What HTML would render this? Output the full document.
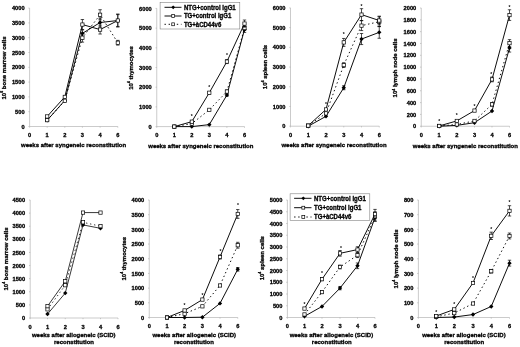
<!DOCTYPE html>
<html><head><meta charset="utf-8"><title>Figure</title>
<style>html,body{margin:0;padding:0;background:#fff;}svg{display:block;font-family:"Liberation Sans", Arial, sans-serif;}</style>
</head><body>
<svg width="520" height="347" viewBox="0 0 520 347">
<rect width="520" height="347" fill="#fff"/>
<g stroke="#a8a8a8" stroke-width="0.6" fill="none">
<path d="M29.6 8.1V126.5H117.8"/>
<path d="M28.40 126.50H29.6"/>
<path d="M28.40 111.70H29.6"/>
<path d="M28.40 96.90H29.6"/>
<path d="M28.40 82.10H29.6"/>
<path d="M28.40 67.30H29.6"/>
<path d="M28.40 52.50H29.6"/>
<path d="M28.40 37.70H29.6"/>
<path d="M28.40 22.90H29.6"/>
<path d="M28.40 8.10H29.6"/>
<path d="M29.60 126.5v1.2"/>
<path d="M47.20 126.5v1.2"/>
<path d="M64.80 126.5v1.2"/>
<path d="M82.40 126.5v1.2"/>
<path d="M100.10 126.5v1.2"/>
<path d="M117.80 126.5v1.2"/>
</g>
<g font-size="5.93" font-weight="bold" fill="#000" stroke="#000" stroke-width="0.3">
<text transform="translate(24.60 128.65) scale(0.9615 1)" text-anchor="end">0</text>
<text transform="translate(24.60 113.85) scale(0.9615 1)" text-anchor="end">500</text>
<text transform="translate(24.60 99.05) scale(0.9615 1)" text-anchor="end">1000</text>
<text transform="translate(24.60 84.25) scale(0.9615 1)" text-anchor="end">1500</text>
<text transform="translate(24.60 69.45) scale(0.9615 1)" text-anchor="end">2000</text>
<text transform="translate(24.60 54.65) scale(0.9615 1)" text-anchor="end">2500</text>
<text transform="translate(24.60 39.85) scale(0.9615 1)" text-anchor="end">3000</text>
<text transform="translate(24.60 25.05) scale(0.9615 1)" text-anchor="end">3500</text>
<text transform="translate(24.60 10.25) scale(0.9615 1)" text-anchor="end">4000</text>
<text transform="translate(29.60 137.15) scale(0.9615 1)" text-anchor="middle">0</text>
<text transform="translate(47.20 137.15) scale(0.9615 1)" text-anchor="middle">1</text>
<text transform="translate(64.80 137.15) scale(0.9615 1)" text-anchor="middle">2</text>
<text transform="translate(82.40 137.15) scale(0.9615 1)" text-anchor="middle">3</text>
<text transform="translate(100.10 137.15) scale(0.9615 1)" text-anchor="middle">4</text>
<text transform="translate(117.80 137.15) scale(0.9615 1)" text-anchor="middle">6</text>
</g>
<g font-size="6.24" font-weight="bold" fill="#000" text-anchor="middle" stroke="#000" stroke-width="0.3">
<text transform="translate(73.60 147.05) scale(0.9615 1)">weeks after syngeneic reconstitution</text>
</g>
<text transform="translate(5.60 68.00) rotate(-90) scale(0.9615 1)" font-size="6.24" font-weight="bold" text-anchor="middle" stroke="#000" stroke-width="0.3">10<tspan font-size="3.74" dy="-2.9">6</tspan><tspan dy="2.9"> bone marrow cells</tspan></text>
<path d="M47.20 120.28 L64.80 100.45 L82.40 33.38 L100.10 22.54 L117.80 20.53" fill="none" stroke="#000" stroke-width="0.95"/>
<path d="M82.40 29.83V36.93M80.70 29.83h3.4M80.70 36.93h3.4" stroke="#000" stroke-width="0.7" fill="none"/>
<path d="M100.10 18.10V26.98M98.40 18.10h3.4M98.40 26.98h3.4" stroke="#000" stroke-width="0.7" fill="none"/>
<path d="M117.80 14.61V26.45M116.10 14.61h3.4M116.10 26.45h3.4" stroke="#000" stroke-width="0.7" fill="none"/>
<path d="M47.20 118.08L49.40 120.28L47.20 122.48L45.00 120.28Z" fill="#000"/>
<path d="M64.80 98.25L67.00 100.45L64.80 102.65L62.60 100.45Z" fill="#000"/>
<path d="M82.40 31.18L84.60 33.38L82.40 35.58L80.20 33.38Z" fill="#000"/>
<path d="M100.10 20.34L102.30 22.54L100.10 24.74L97.90 22.54Z" fill="#000"/>
<path d="M117.80 18.33L120.00 20.53L117.80 22.73L115.60 20.53Z" fill="#000"/>
<path d="M47.20 120.14 L64.80 100.75 L82.40 37.70 L100.10 14.76 L117.80 42.73" fill="none" stroke="#000" stroke-width="0.95" stroke-dasharray="1.4 2.7"/>
<path d="M82.40 33.26V42.14M80.70 33.26h3.4M80.70 42.14h3.4" stroke="#000" stroke-width="0.7" fill="none"/>
<path d="M100.10 9.73V19.79M98.40 9.73h3.4M98.40 19.79h3.4" stroke="#000" stroke-width="0.7" fill="none"/>
<path d="M117.80 40.36V45.10M116.10 40.36h3.4M116.10 45.10h3.4" stroke="#000" stroke-width="0.7" fill="none"/>
<rect x="45.55" y="118.49" width="3.30" height="3.30" fill="#fff" stroke="#000" stroke-width="0.7"/>
<rect x="63.15" y="99.10" width="3.30" height="3.30" fill="#fff" stroke="#000" stroke-width="0.7"/>
<rect x="80.75" y="36.05" width="3.30" height="3.30" fill="#fff" stroke="#000" stroke-width="0.7"/>
<rect x="98.45" y="13.11" width="3.30" height="3.30" fill="#fff" stroke="#000" stroke-width="0.7"/>
<rect x="116.15" y="41.08" width="3.30" height="3.30" fill="#fff" stroke="#000" stroke-width="0.7"/>
<path d="M47.20 116.44 L64.80 96.90 L82.40 24.56 L100.10 29.59 L117.80 20.53" fill="none" stroke="#000" stroke-width="0.95"/>
<path d="M82.40 19.53V29.59M80.70 19.53h3.4M80.70 29.59h3.4" stroke="#000" stroke-width="0.7" fill="none"/>
<path d="M100.10 25.15V34.03M98.40 25.15h3.4M98.40 34.03h3.4" stroke="#000" stroke-width="0.7" fill="none"/>
<path d="M117.80 14.02V27.04M116.10 14.02h3.4M116.10 27.04h3.4" stroke="#000" stroke-width="0.7" fill="none"/>
<rect x="45.55" y="114.79" width="3.30" height="3.30" fill="#fff" stroke="#000" stroke-width="0.7"/>
<rect x="63.15" y="95.25" width="3.30" height="3.30" fill="#fff" stroke="#000" stroke-width="0.7"/>
<rect x="80.75" y="22.91" width="3.30" height="3.30" fill="#fff" stroke="#000" stroke-width="0.7"/>
<rect x="98.45" y="27.94" width="3.30" height="3.30" fill="#fff" stroke="#000" stroke-width="0.7"/>
<rect x="116.15" y="18.88" width="3.30" height="3.30" fill="#fff" stroke="#000" stroke-width="0.7"/>
<g font-size="5" font-weight="bold" text-anchor="middle">
</g>
<g stroke="#a8a8a8" stroke-width="0.6" fill="none">
<path d="M156.75 8.4V126.6H244.5"/>
<path d="M155.55 126.60H156.75"/>
<path d="M155.55 106.90H156.75"/>
<path d="M155.55 87.20H156.75"/>
<path d="M155.55 67.50H156.75"/>
<path d="M155.55 47.80H156.75"/>
<path d="M155.55 28.10H156.75"/>
<path d="M155.55 8.40H156.75"/>
<path d="M156.75 126.6v1.2"/>
<path d="M174.30 126.6v1.2"/>
<path d="M191.80 126.6v1.2"/>
<path d="M209.30 126.6v1.2"/>
<path d="M226.90 126.6v1.2"/>
<path d="M244.50 126.6v1.2"/>
</g>
<g font-size="5.93" font-weight="bold" fill="#000" stroke="#000" stroke-width="0.3">
<text transform="translate(151.75 128.75) scale(0.9615 1)" text-anchor="end">0</text>
<text transform="translate(151.75 109.05) scale(0.9615 1)" text-anchor="end">1000</text>
<text transform="translate(151.75 89.35) scale(0.9615 1)" text-anchor="end">2000</text>
<text transform="translate(151.75 69.65) scale(0.9615 1)" text-anchor="end">3000</text>
<text transform="translate(151.75 49.95) scale(0.9615 1)" text-anchor="end">4000</text>
<text transform="translate(151.75 30.25) scale(0.9615 1)" text-anchor="end">5000</text>
<text transform="translate(151.75 10.55) scale(0.9615 1)" text-anchor="end">6000</text>
<text transform="translate(156.75 137.25) scale(0.9615 1)" text-anchor="middle">0</text>
<text transform="translate(174.30 137.25) scale(0.9615 1)" text-anchor="middle">1</text>
<text transform="translate(191.80 137.25) scale(0.9615 1)" text-anchor="middle">2</text>
<text transform="translate(209.30 137.25) scale(0.9615 1)" text-anchor="middle">3</text>
<text transform="translate(226.90 137.25) scale(0.9615 1)" text-anchor="middle">4</text>
<text transform="translate(244.50 137.25) scale(0.9615 1)" text-anchor="middle">6</text>
</g>
<g font-size="6.24" font-weight="bold" fill="#000" text-anchor="middle" stroke="#000" stroke-width="0.3">
<text transform="translate(200.80 147.55) scale(0.9615 1)">weeks after syngeneic reconstitution</text>
</g>
<text transform="translate(133.10 68.00) rotate(-90) scale(0.9615 1)" font-size="6.24" font-weight="bold" text-anchor="middle" stroke="#000" stroke-width="0.3">10<tspan font-size="3.74" dy="-2.9">4</tspan><tspan dy="2.9"> thymocytes</tspan></text>
<path d="M174.30 126.60 L191.80 126.60 L209.30 124.63 L226.90 95.08 L244.50 29.48" fill="none" stroke="#000" stroke-width="0.95"/>
<path d="M226.90 93.90V96.26M225.20 93.90h3.4M225.20 96.26h3.4" stroke="#000" stroke-width="0.7" fill="none"/>
<path d="M244.50 26.52V32.43M242.80 26.52h3.4M242.80 32.43h3.4" stroke="#000" stroke-width="0.7" fill="none"/>
<path d="M174.30 124.40L176.50 126.60L174.30 128.80L172.10 126.60Z" fill="#000"/>
<path d="M191.80 124.40L194.00 126.60L191.80 128.80L189.60 126.60Z" fill="#000"/>
<path d="M209.30 122.43L211.50 124.63L209.30 126.83L207.10 124.63Z" fill="#000"/>
<path d="M226.90 92.88L229.10 95.08L226.90 97.28L224.70 95.08Z" fill="#000"/>
<path d="M244.50 27.28L246.70 29.48L244.50 31.68L242.30 29.48Z" fill="#000"/>
<path d="M174.30 126.60 L191.80 123.64 L209.30 109.85 L226.90 91.53 L244.50 28.10" fill="none" stroke="#000" stroke-width="0.95" stroke-dasharray="1.4 2.7"/>
<path d="M226.90 89.96V93.11M225.20 89.96h3.4M225.20 93.11h3.4" stroke="#000" stroke-width="0.7" fill="none"/>
<path d="M244.50 25.74V30.46M242.80 25.74h3.4M242.80 30.46h3.4" stroke="#000" stroke-width="0.7" fill="none"/>
<rect x="172.65" y="124.95" width="3.30" height="3.30" fill="#fff" stroke="#000" stroke-width="0.7"/>
<rect x="190.15" y="121.99" width="3.30" height="3.30" fill="#fff" stroke="#000" stroke-width="0.7"/>
<rect x="207.65" y="108.20" width="3.30" height="3.30" fill="#fff" stroke="#000" stroke-width="0.7"/>
<rect x="225.25" y="89.88" width="3.30" height="3.30" fill="#fff" stroke="#000" stroke-width="0.7"/>
<rect x="242.85" y="26.45" width="3.30" height="3.30" fill="#fff" stroke="#000" stroke-width="0.7"/>
<path d="M174.30 126.60 L191.80 121.67 L209.30 92.72 L226.90 61.59 L244.50 23.57" fill="none" stroke="#000" stroke-width="0.95"/>
<path d="M191.80 120.49V122.86M190.10 120.49h3.4M190.10 122.86h3.4" stroke="#000" stroke-width="0.7" fill="none"/>
<path d="M209.30 91.53V93.90M207.60 91.53h3.4M207.60 93.90h3.4" stroke="#000" stroke-width="0.7" fill="none"/>
<path d="M226.90 59.62V63.56M225.20 59.62h3.4M225.20 63.56h3.4" stroke="#000" stroke-width="0.7" fill="none"/>
<path d="M244.50 20.02V27.11M242.80 20.02h3.4M242.80 27.11h3.4" stroke="#000" stroke-width="0.7" fill="none"/>
<rect x="172.65" y="124.95" width="3.30" height="3.30" fill="#fff" stroke="#000" stroke-width="0.7"/>
<rect x="190.15" y="120.02" width="3.30" height="3.30" fill="#fff" stroke="#000" stroke-width="0.7"/>
<rect x="207.65" y="91.07" width="3.30" height="3.30" fill="#fff" stroke="#000" stroke-width="0.7"/>
<rect x="225.25" y="59.94" width="3.30" height="3.30" fill="#fff" stroke="#000" stroke-width="0.7"/>
<rect x="242.85" y="21.92" width="3.30" height="3.30" fill="#fff" stroke="#000" stroke-width="0.7"/>
<g font-size="5" font-weight="bold" text-anchor="middle">
<text x="191.80" y="118.30">*</text>
<text x="209.30" y="89.30">*</text>
<text x="226.90" y="57.30">*</text>
</g>
<g stroke="#a8a8a8" stroke-width="0.6" fill="none">
<path d="M290.5 7.9V126.2H379.25"/>
<path d="M289.30 126.20H290.5"/>
<path d="M289.30 106.48H290.5"/>
<path d="M289.30 86.77H290.5"/>
<path d="M289.30 67.05H290.5"/>
<path d="M289.30 47.33H290.5"/>
<path d="M289.30 27.62H290.5"/>
<path d="M289.30 7.90H290.5"/>
<path d="M290.50 126.2v1.2"/>
<path d="M308.25 126.2v1.2"/>
<path d="M326.00 126.2v1.2"/>
<path d="M343.75 126.2v1.2"/>
<path d="M361.50 126.2v1.2"/>
<path d="M379.25 126.2v1.2"/>
</g>
<g font-size="5.93" font-weight="bold" fill="#000" stroke="#000" stroke-width="0.3">
<text transform="translate(285.50 128.35) scale(0.9615 1)" text-anchor="end">0</text>
<text transform="translate(285.50 108.63) scale(0.9615 1)" text-anchor="end">1000</text>
<text transform="translate(285.50 88.92) scale(0.9615 1)" text-anchor="end">2000</text>
<text transform="translate(285.50 69.20) scale(0.9615 1)" text-anchor="end">3000</text>
<text transform="translate(285.50 49.48) scale(0.9615 1)" text-anchor="end">4000</text>
<text transform="translate(285.50 29.77) scale(0.9615 1)" text-anchor="end">5000</text>
<text transform="translate(285.50 10.05) scale(0.9615 1)" text-anchor="end">6000</text>
<text transform="translate(290.50 136.85) scale(0.9615 1)" text-anchor="middle">0</text>
<text transform="translate(308.25 136.85) scale(0.9615 1)" text-anchor="middle">1</text>
<text transform="translate(326.00 136.85) scale(0.9615 1)" text-anchor="middle">2</text>
<text transform="translate(343.75 136.85) scale(0.9615 1)" text-anchor="middle">3</text>
<text transform="translate(361.50 136.85) scale(0.9615 1)" text-anchor="middle">4</text>
<text transform="translate(379.25 136.85) scale(0.9615 1)" text-anchor="middle">6</text>
</g>
<g font-size="6.24" font-weight="bold" fill="#000" text-anchor="middle" stroke="#000" stroke-width="0.3">
<text transform="translate(334.00 147.45) scale(0.9615 1)">weeks after syngeneic reconstitution</text>
</g>
<text transform="translate(267.30 67.00) rotate(-90) scale(0.9615 1)" font-size="6.24" font-weight="bold" text-anchor="middle" stroke="#000" stroke-width="0.3">10<tspan font-size="3.74" dy="-2.9">4</tspan><tspan dy="2.9"> spleen cells</tspan></text>
<path d="M308.25 126.20 L326.00 116.34 L343.75 87.75 L361.50 39.05 L379.25 32.35" fill="none" stroke="#000" stroke-width="0.95"/>
<path d="M343.75 85.78V89.72M342.05 85.78h3.4M342.05 89.72h3.4" stroke="#000" stroke-width="0.7" fill="none"/>
<path d="M361.50 33.53V44.57M359.80 33.53h3.4M359.80 44.57h3.4" stroke="#000" stroke-width="0.7" fill="none"/>
<path d="M379.25 26.43V38.26M377.55 26.43h3.4M377.55 38.26h3.4" stroke="#000" stroke-width="0.7" fill="none"/>
<path d="M308.25 124.00L310.45 126.20L308.25 128.40L306.05 126.20Z" fill="#000"/>
<path d="M326.00 114.14L328.20 116.34L326.00 118.54L323.80 116.34Z" fill="#000"/>
<path d="M343.75 85.55L345.95 87.75L343.75 89.95L341.55 87.75Z" fill="#000"/>
<path d="M361.50 36.85L363.70 39.05L361.50 41.25L359.30 39.05Z" fill="#000"/>
<path d="M379.25 30.15L381.45 32.35L379.25 34.55L377.05 32.35Z" fill="#000"/>
<path d="M308.25 125.61 L326.00 113.38 L343.75 65.08 L361.50 25.64 L379.25 21.70" fill="none" stroke="#000" stroke-width="0.95" stroke-dasharray="1.4 2.7"/>
<path d="M343.75 62.71V67.44M342.05 62.71h3.4M342.05 67.44h3.4" stroke="#000" stroke-width="0.7" fill="none"/>
<path d="M361.50 20.72V30.57M359.80 20.72h3.4M359.80 30.57h3.4" stroke="#000" stroke-width="0.7" fill="none"/>
<path d="M379.25 16.77V26.63M377.55 16.77h3.4M377.55 26.63h3.4" stroke="#000" stroke-width="0.7" fill="none"/>
<rect x="306.60" y="123.96" width="3.30" height="3.30" fill="#fff" stroke="#000" stroke-width="0.7"/>
<rect x="324.35" y="111.73" width="3.30" height="3.30" fill="#fff" stroke="#000" stroke-width="0.7"/>
<rect x="342.10" y="63.43" width="3.30" height="3.30" fill="#fff" stroke="#000" stroke-width="0.7"/>
<rect x="359.85" y="23.99" width="3.30" height="3.30" fill="#fff" stroke="#000" stroke-width="0.7"/>
<rect x="377.60" y="20.05" width="3.30" height="3.30" fill="#fff" stroke="#000" stroke-width="0.7"/>
<path d="M308.25 125.61 L326.00 109.44 L343.75 42.40 L361.50 14.60 L379.25 20.52" fill="none" stroke="#000" stroke-width="0.95"/>
<path d="M343.75 38.46V46.35M342.05 38.46h3.4M342.05 46.35h3.4" stroke="#000" stroke-width="0.7" fill="none"/>
<path d="M361.50 8.69V20.52M359.80 8.69h3.4M359.80 20.52h3.4" stroke="#000" stroke-width="0.7" fill="none"/>
<path d="M379.25 16.18V24.86M377.55 16.18h3.4M377.55 24.86h3.4" stroke="#000" stroke-width="0.7" fill="none"/>
<rect x="306.60" y="123.96" width="3.30" height="3.30" fill="#fff" stroke="#000" stroke-width="0.7"/>
<rect x="324.35" y="107.79" width="3.30" height="3.30" fill="#fff" stroke="#000" stroke-width="0.7"/>
<rect x="342.10" y="40.75" width="3.30" height="3.30" fill="#fff" stroke="#000" stroke-width="0.7"/>
<rect x="359.85" y="12.95" width="3.30" height="3.30" fill="#fff" stroke="#000" stroke-width="0.7"/>
<rect x="377.60" y="18.87" width="3.30" height="3.30" fill="#fff" stroke="#000" stroke-width="0.7"/>
<g font-size="5" font-weight="bold" text-anchor="middle">
<text x="326.00" y="106.30">*</text>
<text x="343.75" y="36.30">*</text>
<text x="361.50" y="7.80">*</text>
</g>
<g stroke="#a8a8a8" stroke-width="0.6" fill="none">
<path d="M421.25 8.0V126.25H509.5"/>
<path d="M420.05 126.25H421.25"/>
<path d="M420.05 114.42H421.25"/>
<path d="M420.05 102.60H421.25"/>
<path d="M420.05 90.78H421.25"/>
<path d="M420.05 78.95H421.25"/>
<path d="M420.05 67.12H421.25"/>
<path d="M420.05 55.30H421.25"/>
<path d="M420.05 43.48H421.25"/>
<path d="M420.05 31.65H421.25"/>
<path d="M420.05 19.83H421.25"/>
<path d="M420.05 8.00H421.25"/>
<path d="M421.25 126.25v1.2"/>
<path d="M439.20 126.25v1.2"/>
<path d="M456.80 126.25v1.2"/>
<path d="M474.50 126.25v1.2"/>
<path d="M492.00 126.25v1.2"/>
<path d="M509.50 126.25v1.2"/>
</g>
<g font-size="5.93" font-weight="bold" fill="#000" stroke="#000" stroke-width="0.3">
<text transform="translate(416.25 128.40) scale(0.9615 1)" text-anchor="end">0</text>
<text transform="translate(416.25 116.58) scale(0.9615 1)" text-anchor="end">200</text>
<text transform="translate(416.25 104.75) scale(0.9615 1)" text-anchor="end">400</text>
<text transform="translate(416.25 92.93) scale(0.9615 1)" text-anchor="end">600</text>
<text transform="translate(416.25 81.10) scale(0.9615 1)" text-anchor="end">800</text>
<text transform="translate(416.25 69.28) scale(0.9615 1)" text-anchor="end">1000</text>
<text transform="translate(416.25 57.45) scale(0.9615 1)" text-anchor="end">1200</text>
<text transform="translate(416.25 45.63) scale(0.9615 1)" text-anchor="end">1400</text>
<text transform="translate(416.25 33.80) scale(0.9615 1)" text-anchor="end">1600</text>
<text transform="translate(416.25 21.98) scale(0.9615 1)" text-anchor="end">1800</text>
<text transform="translate(416.25 10.15) scale(0.9615 1)" text-anchor="end">2000</text>
<text transform="translate(421.25 136.90) scale(0.9615 1)" text-anchor="middle">0</text>
<text transform="translate(439.20 136.90) scale(0.9615 1)" text-anchor="middle">1</text>
<text transform="translate(456.80 136.90) scale(0.9615 1)" text-anchor="middle">2</text>
<text transform="translate(474.50 136.90) scale(0.9615 1)" text-anchor="middle">3</text>
<text transform="translate(492.00 136.90) scale(0.9615 1)" text-anchor="middle">4</text>
<text transform="translate(509.50 136.90) scale(0.9615 1)" text-anchor="middle">6</text>
</g>
<g font-size="6.24" font-weight="bold" fill="#000" text-anchor="middle" stroke="#000" stroke-width="0.3">
<text transform="translate(465.30 147.65) scale(0.9615 1)">weeks after syngeneic reconstitution</text>
</g>
<text transform="translate(397.40 68.00) rotate(-90) scale(0.9615 1)" font-size="6.24" font-weight="bold" text-anchor="middle" stroke="#000" stroke-width="0.3">10<tspan font-size="3.74" dy="-2.9">4</tspan><tspan dy="2.9"> lymph node cells</tspan></text>
<path d="M439.20 126.25 L456.80 125.36 L474.50 122.70 L492.00 111.00 L509.50 47.91" fill="none" stroke="#000" stroke-width="0.95"/>
<path d="M509.50 43.77V52.05M507.80 43.77h3.4M507.80 52.05h3.4" stroke="#000" stroke-width="0.7" fill="none"/>
<path d="M439.20 124.05L441.40 126.25L439.20 128.45L437.00 126.25Z" fill="#000"/>
<path d="M456.80 123.16L459.00 125.36L456.80 127.56L454.60 125.36Z" fill="#000"/>
<path d="M474.50 120.50L476.70 122.70L474.50 124.90L472.30 122.70Z" fill="#000"/>
<path d="M492.00 108.80L494.20 111.00L492.00 113.20L489.80 111.00Z" fill="#000"/>
<path d="M509.50 45.71L511.70 47.91L509.50 50.11L507.30 47.91Z" fill="#000"/>
<path d="M439.20 125.95 L456.80 124.48 L474.50 120.93 L492.00 104.37 L509.50 43.18" fill="none" stroke="#000" stroke-width="0.95" stroke-dasharray="1.4 2.7"/>
<path d="M492.00 102.60V106.15M490.30 102.60h3.4M490.30 106.15h3.4" stroke="#000" stroke-width="0.7" fill="none"/>
<path d="M509.50 39.63V46.73M507.80 39.63h3.4M507.80 46.73h3.4" stroke="#000" stroke-width="0.7" fill="none"/>
<rect x="437.55" y="124.30" width="3.30" height="3.30" fill="#fff" stroke="#000" stroke-width="0.7"/>
<rect x="455.15" y="122.83" width="3.30" height="3.30" fill="#fff" stroke="#000" stroke-width="0.7"/>
<rect x="472.85" y="119.28" width="3.30" height="3.30" fill="#fff" stroke="#000" stroke-width="0.7"/>
<rect x="490.35" y="102.72" width="3.30" height="3.30" fill="#fff" stroke="#000" stroke-width="0.7"/>
<rect x="507.85" y="41.53" width="3.30" height="3.30" fill="#fff" stroke="#000" stroke-width="0.7"/>
<path d="M439.20 125.95 L456.80 120.93 L474.50 110.58 L492.00 79.42 L509.50 15.09" fill="none" stroke="#000" stroke-width="0.95"/>
<path d="M492.00 77.06V81.79M490.30 77.06h3.4M490.30 81.79h3.4" stroke="#000" stroke-width="0.7" fill="none"/>
<path d="M509.50 9.77V20.42M507.80 9.77h3.4M507.80 20.42h3.4" stroke="#000" stroke-width="0.7" fill="none"/>
<rect x="437.55" y="124.30" width="3.30" height="3.30" fill="#fff" stroke="#000" stroke-width="0.7"/>
<rect x="455.15" y="119.28" width="3.30" height="3.30" fill="#fff" stroke="#000" stroke-width="0.7"/>
<rect x="472.85" y="108.93" width="3.30" height="3.30" fill="#fff" stroke="#000" stroke-width="0.7"/>
<rect x="490.35" y="77.77" width="3.30" height="3.30" fill="#fff" stroke="#000" stroke-width="0.7"/>
<rect x="507.85" y="13.44" width="3.30" height="3.30" fill="#fff" stroke="#000" stroke-width="0.7"/>
<g font-size="5" font-weight="bold" text-anchor="middle">
<text x="439.20" y="122.80">*</text>
<text x="456.80" y="117.05">*</text>
<text x="474.50" y="107.80">*</text>
<text x="491.30" y="75.80">*</text>
<text x="509.50" y="8.80">*</text>
</g>
<g stroke="#a8a8a8" stroke-width="0.6" fill="none">
<path d="M30.2 200V318H118"/>
<path d="M29.00 318.00H30.2"/>
<path d="M29.00 304.89H30.2"/>
<path d="M29.00 291.78H30.2"/>
<path d="M29.00 278.67H30.2"/>
<path d="M29.00 265.56H30.2"/>
<path d="M29.00 252.44H30.2"/>
<path d="M29.00 239.33H30.2"/>
<path d="M29.00 226.22H30.2"/>
<path d="M29.00 213.11H30.2"/>
<path d="M29.00 200.00H30.2"/>
<path d="M30.20 318v1.2"/>
<path d="M47.50 318v1.2"/>
<path d="M65.25 318v1.2"/>
<path d="M83.00 318v1.2"/>
<path d="M100.50 318v1.2"/>
<path d="M118.00 318v1.2"/>
</g>
<g font-size="5.93" font-weight="bold" fill="#000" stroke="#000" stroke-width="0.3">
<text transform="translate(25.20 320.15) scale(0.9615 1)" text-anchor="end">0</text>
<text transform="translate(25.20 307.04) scale(0.9615 1)" text-anchor="end">500</text>
<text transform="translate(25.20 293.93) scale(0.9615 1)" text-anchor="end">1000</text>
<text transform="translate(25.20 280.82) scale(0.9615 1)" text-anchor="end">1500</text>
<text transform="translate(25.20 267.71) scale(0.9615 1)" text-anchor="end">2000</text>
<text transform="translate(25.20 254.59) scale(0.9615 1)" text-anchor="end">2500</text>
<text transform="translate(25.20 241.48) scale(0.9615 1)" text-anchor="end">3000</text>
<text transform="translate(25.20 228.37) scale(0.9615 1)" text-anchor="end">3500</text>
<text transform="translate(25.20 215.26) scale(0.9615 1)" text-anchor="end">4000</text>
<text transform="translate(25.20 202.15) scale(0.9615 1)" text-anchor="end">4500</text>
<text transform="translate(30.20 328.65) scale(0.9615 1)" text-anchor="middle">0</text>
<text transform="translate(47.50 328.65) scale(0.9615 1)" text-anchor="middle">1</text>
<text transform="translate(65.25 328.65) scale(0.9615 1)" text-anchor="middle">2</text>
<text transform="translate(83.00 328.65) scale(0.9615 1)" text-anchor="middle">3</text>
<text transform="translate(100.50 328.65) scale(0.9615 1)" text-anchor="middle">4</text>
<text transform="translate(118.00 328.65) scale(0.9615 1)" text-anchor="middle">6</text>
</g>
<g font-size="6.24" font-weight="bold" fill="#000" text-anchor="middle" stroke="#000" stroke-width="0.3">
<text transform="translate(73.70 337.35) scale(0.9615 1)">weeks after allogeneic (SCID)</text>
<text transform="translate(74.00 344.45) scale(0.9615 1)">reconstitution</text>
</g>
<text transform="translate(7.70 259.00) rotate(-90) scale(0.9615 1)" font-size="6.24" font-weight="bold" text-anchor="middle" stroke="#000" stroke-width="0.3">10<tspan font-size="3.74" dy="-2.9">4</tspan><tspan dy="2.9"> bone marrow cells</tspan></text>
<path d="M47.50 314.07 L65.25 293.09 L83.00 224.91 L100.50 228.32" fill="none" stroke="#000" stroke-width="0.78"/>
<path d="M47.50 311.87L49.70 314.07L47.50 316.27L45.30 314.07Z" fill="#000"/>
<path d="M65.25 290.89L67.45 293.09L65.25 295.29L63.05 293.09Z" fill="#000"/>
<path d="M83.00 222.71L85.20 224.91L83.00 227.11L80.80 224.91Z" fill="#000"/>
<path d="M100.50 226.12L102.70 228.32L100.50 230.52L98.30 228.32Z" fill="#000"/>
<path d="M47.50 309.35 L65.25 285.22 L83.00 222.29 L100.50 226.22" fill="none" stroke="#000" stroke-width="0.78" stroke-dasharray="1.4 2.7"/>
<rect x="45.85" y="307.70" width="3.30" height="3.30" fill="#fff" stroke="#000" stroke-width="0.7"/>
<rect x="63.60" y="283.57" width="3.30" height="3.30" fill="#fff" stroke="#000" stroke-width="0.7"/>
<rect x="81.35" y="220.64" width="3.30" height="3.30" fill="#fff" stroke="#000" stroke-width="0.7"/>
<rect x="98.85" y="224.57" width="3.30" height="3.30" fill="#fff" stroke="#000" stroke-width="0.7"/>
<path d="M47.50 306.20 L65.25 281.29 L83.00 212.59 L100.50 212.59" fill="none" stroke="#000" stroke-width="0.78"/>
<rect x="45.85" y="304.55" width="3.30" height="3.30" fill="#fff" stroke="#000" stroke-width="0.7"/>
<rect x="63.60" y="279.64" width="3.30" height="3.30" fill="#fff" stroke="#000" stroke-width="0.7"/>
<rect x="81.35" y="210.94" width="3.30" height="3.30" fill="#fff" stroke="#000" stroke-width="0.7"/>
<rect x="98.85" y="210.94" width="3.30" height="3.30" fill="#fff" stroke="#000" stroke-width="0.7"/>
<g font-size="5" font-weight="bold" text-anchor="middle">
</g>
<g stroke="#a8a8a8" stroke-width="0.6" fill="none">
<path d="M149.25 200V317.5H237.75"/>
<path d="M148.05 317.50H149.25"/>
<path d="M148.05 302.81H149.25"/>
<path d="M148.05 288.12H149.25"/>
<path d="M148.05 273.44H149.25"/>
<path d="M148.05 258.75H149.25"/>
<path d="M148.05 244.06H149.25"/>
<path d="M148.05 229.38H149.25"/>
<path d="M148.05 214.69H149.25"/>
<path d="M148.05 200.00H149.25"/>
<path d="M149.25 317.5v1.2"/>
<path d="M167.00 317.5v1.2"/>
<path d="M184.60 317.5v1.2"/>
<path d="M202.40 317.5v1.2"/>
<path d="M220.00 317.5v1.2"/>
<path d="M237.75 317.5v1.2"/>
</g>
<g font-size="5.93" font-weight="bold" fill="#000" stroke="#000" stroke-width="0.3">
<text transform="translate(144.25 319.65) scale(0.9615 1)" text-anchor="end">0</text>
<text transform="translate(144.25 304.96) scale(0.9615 1)" text-anchor="end">500</text>
<text transform="translate(144.25 290.27) scale(0.9615 1)" text-anchor="end">1000</text>
<text transform="translate(144.25 275.59) scale(0.9615 1)" text-anchor="end">1500</text>
<text transform="translate(144.25 260.90) scale(0.9615 1)" text-anchor="end">2000</text>
<text transform="translate(144.25 246.21) scale(0.9615 1)" text-anchor="end">2500</text>
<text transform="translate(144.25 231.53) scale(0.9615 1)" text-anchor="end">3000</text>
<text transform="translate(144.25 216.84) scale(0.9615 1)" text-anchor="end">3500</text>
<text transform="translate(144.25 202.15) scale(0.9615 1)" text-anchor="end">4000</text>
<text transform="translate(149.25 328.15) scale(0.9615 1)" text-anchor="middle">0</text>
<text transform="translate(167.00 328.15) scale(0.9615 1)" text-anchor="middle">1</text>
<text transform="translate(184.60 328.15) scale(0.9615 1)" text-anchor="middle">2</text>
<text transform="translate(202.40 328.15) scale(0.9615 1)" text-anchor="middle">3</text>
<text transform="translate(220.00 328.15) scale(0.9615 1)" text-anchor="middle">4</text>
<text transform="translate(237.75 328.15) scale(0.9615 1)" text-anchor="middle">6</text>
</g>
<g font-size="6.24" font-weight="bold" fill="#000" text-anchor="middle" stroke="#000" stroke-width="0.3">
<text transform="translate(194.20 337.35) scale(0.9615 1)">weeks after allogeneic (SCID)</text>
<text transform="translate(193.90 344.45) scale(0.9615 1)">reconstitution</text>
</g>
<text transform="translate(125.70 258.70) rotate(-90) scale(0.9615 1)" font-size="6.24" font-weight="bold" text-anchor="middle" stroke="#000" stroke-width="0.3">10<tspan font-size="3.74" dy="-2.9">4</tspan><tspan dy="2.9"> thymocytes</tspan></text>
<path d="M167.00 317.50 L184.60 317.50 L202.40 317.21 L220.00 303.40 L237.75 269.32" fill="none" stroke="#000" stroke-width="0.95"/>
<path d="M237.75 267.56V271.09M236.05 267.56h3.4M236.05 271.09h3.4" stroke="#000" stroke-width="0.7" fill="none"/>
<path d="M167.00 315.30L169.20 317.50L167.00 319.70L164.80 317.50Z" fill="#000"/>
<path d="M184.60 315.30L186.80 317.50L184.60 319.70L182.40 317.50Z" fill="#000"/>
<path d="M202.40 315.01L204.60 317.21L202.40 319.41L200.20 317.21Z" fill="#000"/>
<path d="M220.00 301.20L222.20 303.40L220.00 305.60L217.80 303.40Z" fill="#000"/>
<path d="M237.75 267.12L239.95 269.32L237.75 271.52L235.55 269.32Z" fill="#000"/>
<path d="M167.00 317.50 L184.60 313.68 L202.40 306.34 L220.00 285.48 L237.75 245.24" fill="none" stroke="#000" stroke-width="0.95" stroke-dasharray="1.4 2.7"/>
<path d="M237.75 242.30V248.18M236.05 242.30h3.4M236.05 248.18h3.4" stroke="#000" stroke-width="0.7" fill="none"/>
<rect x="165.35" y="315.85" width="3.30" height="3.30" fill="#fff" stroke="#000" stroke-width="0.7"/>
<rect x="182.95" y="312.03" width="3.30" height="3.30" fill="#fff" stroke="#000" stroke-width="0.7"/>
<rect x="200.75" y="304.69" width="3.30" height="3.30" fill="#fff" stroke="#000" stroke-width="0.7"/>
<rect x="218.35" y="283.83" width="3.30" height="3.30" fill="#fff" stroke="#000" stroke-width="0.7"/>
<rect x="236.10" y="243.59" width="3.30" height="3.30" fill="#fff" stroke="#000" stroke-width="0.7"/>
<path d="M167.00 317.50 L184.60 310.45 L202.40 299.58 L220.00 256.99 L237.75 213.95" fill="none" stroke="#000" stroke-width="0.95"/>
<path d="M220.00 254.93V259.04M218.30 254.93h3.4M218.30 259.04h3.4" stroke="#000" stroke-width="0.7" fill="none"/>
<path d="M237.75 209.55V218.36M236.05 209.55h3.4M236.05 218.36h3.4" stroke="#000" stroke-width="0.7" fill="none"/>
<rect x="165.35" y="315.85" width="3.30" height="3.30" fill="#fff" stroke="#000" stroke-width="0.7"/>
<rect x="182.95" y="308.80" width="3.30" height="3.30" fill="#fff" stroke="#000" stroke-width="0.7"/>
<rect x="200.75" y="297.93" width="3.30" height="3.30" fill="#fff" stroke="#000" stroke-width="0.7"/>
<rect x="218.35" y="255.34" width="3.30" height="3.30" fill="#fff" stroke="#000" stroke-width="0.7"/>
<rect x="236.10" y="212.30" width="3.30" height="3.30" fill="#fff" stroke="#000" stroke-width="0.7"/>
<g font-size="5" font-weight="bold" text-anchor="middle">
<text x="184.60" y="307.05">*</text>
<text x="202.40" y="297.05">*</text>
<text x="220.50" y="252.80">*</text>
<text x="238.00" y="207.05">*</text>
</g>
<g stroke="#a8a8a8" stroke-width="0.6" fill="none">
<path d="M287.4 200V317.5H375"/>
<path d="M286.20 317.50H287.4"/>
<path d="M286.20 305.75H287.4"/>
<path d="M286.20 294.00H287.4"/>
<path d="M286.20 282.25H287.4"/>
<path d="M286.20 270.50H287.4"/>
<path d="M286.20 258.75H287.4"/>
<path d="M286.20 247.00H287.4"/>
<path d="M286.20 235.25H287.4"/>
<path d="M286.20 223.50H287.4"/>
<path d="M286.20 211.75H287.4"/>
<path d="M286.20 200.00H287.4"/>
<path d="M287.40 317.5v1.2"/>
<path d="M304.50 317.5v1.2"/>
<path d="M322.00 317.5v1.2"/>
<path d="M340.00 317.5v1.2"/>
<path d="M357.50 317.5v1.2"/>
<path d="M375.00 317.5v1.2"/>
</g>
<g font-size="5.93" font-weight="bold" fill="#000" stroke="#000" stroke-width="0.3">
<text transform="translate(282.40 319.65) scale(0.9615 1)" text-anchor="end">0</text>
<text transform="translate(282.40 307.90) scale(0.9615 1)" text-anchor="end">500</text>
<text transform="translate(282.40 296.15) scale(0.9615 1)" text-anchor="end">1000</text>
<text transform="translate(282.40 284.40) scale(0.9615 1)" text-anchor="end">1500</text>
<text transform="translate(282.40 272.65) scale(0.9615 1)" text-anchor="end">2000</text>
<text transform="translate(282.40 260.90) scale(0.9615 1)" text-anchor="end">2500</text>
<text transform="translate(282.40 249.15) scale(0.9615 1)" text-anchor="end">3000</text>
<text transform="translate(282.40 237.40) scale(0.9615 1)" text-anchor="end">3500</text>
<text transform="translate(282.40 225.65) scale(0.9615 1)" text-anchor="end">4000</text>
<text transform="translate(282.40 213.90) scale(0.9615 1)" text-anchor="end">4500</text>
<text transform="translate(282.40 202.15) scale(0.9615 1)" text-anchor="end">5000</text>
<text transform="translate(287.40 328.15) scale(0.9615 1)" text-anchor="middle">0</text>
<text transform="translate(304.50 328.15) scale(0.9615 1)" text-anchor="middle">1</text>
<text transform="translate(322.00 328.15) scale(0.9615 1)" text-anchor="middle">2</text>
<text transform="translate(340.00 328.15) scale(0.9615 1)" text-anchor="middle">3</text>
<text transform="translate(357.50 328.15) scale(0.9615 1)" text-anchor="middle">4</text>
<text transform="translate(375.00 328.15) scale(0.9615 1)" text-anchor="middle">6</text>
</g>
<g font-size="6.24" font-weight="bold" fill="#000" text-anchor="middle" stroke="#000" stroke-width="0.3">
<text transform="translate(331.40 337.35) scale(0.9615 1)">weeks after allogeneic (SCID)</text>
<text transform="translate(331.80 344.45) scale(0.9615 1)">reconstitution</text>
</g>
<text transform="translate(264.20 258.20) rotate(-90) scale(0.9615 1)" font-size="6.24" font-weight="bold" text-anchor="middle" stroke="#000" stroke-width="0.3">10<tspan font-size="3.74" dy="-2.9">4</tspan><tspan dy="2.9"> spleen cells</tspan></text>
<path d="M304.50 316.32 L322.00 306.45 L340.00 288.12 L357.50 265.80 L375.00 217.62" fill="none" stroke="#000" stroke-width="0.95"/>
<path d="M340.00 286.48V289.77M338.30 286.48h3.4M338.30 289.77h3.4" stroke="#000" stroke-width="0.7" fill="none"/>
<path d="M357.50 262.98V268.62M355.80 262.98h3.4M355.80 268.62h3.4" stroke="#000" stroke-width="0.7" fill="none"/>
<path d="M375.00 214.10V221.15M373.30 214.10h3.4M373.30 221.15h3.4" stroke="#000" stroke-width="0.7" fill="none"/>
<path d="M304.50 314.12L306.70 316.32L304.50 318.52L302.30 316.32Z" fill="#000"/>
<path d="M322.00 304.25L324.20 306.45L322.00 308.65L319.80 306.45Z" fill="#000"/>
<path d="M340.00 285.93L342.20 288.12L340.00 290.32L337.80 288.12Z" fill="#000"/>
<path d="M357.50 263.60L359.70 265.80L357.50 268.00L355.30 265.80Z" fill="#000"/>
<path d="M375.00 215.43L377.20 217.62L375.00 219.82L372.80 217.62Z" fill="#000"/>
<path d="M304.50 314.44 L322.00 292.12 L340.00 266.98 L357.50 255.22 L375.00 216.45" fill="none" stroke="#000" stroke-width="0.95" stroke-dasharray="1.4 2.7"/>
<path d="M322.00 290.71V293.53M320.30 290.71h3.4M320.30 293.53h3.4" stroke="#000" stroke-width="0.7" fill="none"/>
<path d="M340.00 265.10V268.86M338.30 265.10h3.4M338.30 268.86h3.4" stroke="#000" stroke-width="0.7" fill="none"/>
<path d="M357.50 252.88V257.57M355.80 252.88h3.4M355.80 257.57h3.4" stroke="#000" stroke-width="0.7" fill="none"/>
<path d="M375.00 211.75V221.15M373.30 211.75h3.4M373.30 221.15h3.4" stroke="#000" stroke-width="0.7" fill="none"/>
<rect x="302.85" y="312.80" width="3.30" height="3.30" fill="#fff" stroke="#000" stroke-width="0.7"/>
<rect x="320.35" y="290.47" width="3.30" height="3.30" fill="#fff" stroke="#000" stroke-width="0.7"/>
<rect x="338.35" y="265.33" width="3.30" height="3.30" fill="#fff" stroke="#000" stroke-width="0.7"/>
<rect x="355.85" y="253.57" width="3.30" height="3.30" fill="#fff" stroke="#000" stroke-width="0.7"/>
<rect x="373.35" y="214.80" width="3.30" height="3.30" fill="#fff" stroke="#000" stroke-width="0.7"/>
<path d="M304.50 308.57 L322.00 279.19 L340.00 253.34 L357.50 249.58 L375.00 214.10" fill="none" stroke="#000" stroke-width="0.95"/>
<path d="M322.00 277.78V280.61M320.30 277.78h3.4M320.30 280.61h3.4" stroke="#000" stroke-width="0.7" fill="none"/>
<path d="M340.00 250.53V256.17M338.30 250.53h3.4M338.30 256.17h3.4" stroke="#000" stroke-width="0.7" fill="none"/>
<path d="M357.50 246.76V252.41M355.80 246.76h3.4M355.80 252.41h3.4" stroke="#000" stroke-width="0.7" fill="none"/>
<path d="M375.00 209.40V218.80M373.30 209.40h3.4M373.30 218.80h3.4" stroke="#000" stroke-width="0.7" fill="none"/>
<rect x="302.85" y="306.92" width="3.30" height="3.30" fill="#fff" stroke="#000" stroke-width="0.7"/>
<rect x="320.35" y="277.55" width="3.30" height="3.30" fill="#fff" stroke="#000" stroke-width="0.7"/>
<rect x="338.35" y="251.69" width="3.30" height="3.30" fill="#fff" stroke="#000" stroke-width="0.7"/>
<rect x="355.85" y="247.93" width="3.30" height="3.30" fill="#fff" stroke="#000" stroke-width="0.7"/>
<rect x="373.35" y="212.45" width="3.30" height="3.30" fill="#fff" stroke="#000" stroke-width="0.7"/>
<g font-size="5" font-weight="bold" text-anchor="middle">
<text x="304.50" y="306.30">*</text>
<text x="322.00" y="275.30">*</text>
<text x="341.00" y="249.80">*</text>
</g>
<g stroke="#a8a8a8" stroke-width="0.6" fill="none">
<path d="M418.4 200V317.5H509.5"/>
<path d="M417.20 317.50H418.4"/>
<path d="M417.20 302.81H418.4"/>
<path d="M417.20 288.12H418.4"/>
<path d="M417.20 273.44H418.4"/>
<path d="M417.20 258.75H418.4"/>
<path d="M417.20 244.06H418.4"/>
<path d="M417.20 229.38H418.4"/>
<path d="M417.20 214.69H418.4"/>
<path d="M417.20 200.00H418.4"/>
<path d="M418.40 317.5v1.2"/>
<path d="M436.25 317.5v1.2"/>
<path d="M454.25 317.5v1.2"/>
<path d="M473.00 317.5v1.2"/>
<path d="M491.25 317.5v1.2"/>
<path d="M509.50 317.5v1.2"/>
</g>
<g font-size="5.93" font-weight="bold" fill="#000" stroke="#000" stroke-width="0.3">
<text transform="translate(413.40 319.65) scale(0.9615 1)" text-anchor="end">0</text>
<text transform="translate(413.40 304.96) scale(0.9615 1)" text-anchor="end">100</text>
<text transform="translate(413.40 290.27) scale(0.9615 1)" text-anchor="end">200</text>
<text transform="translate(413.40 275.59) scale(0.9615 1)" text-anchor="end">300</text>
<text transform="translate(413.40 260.90) scale(0.9615 1)" text-anchor="end">400</text>
<text transform="translate(413.40 246.21) scale(0.9615 1)" text-anchor="end">500</text>
<text transform="translate(413.40 231.53) scale(0.9615 1)" text-anchor="end">600</text>
<text transform="translate(413.40 216.84) scale(0.9615 1)" text-anchor="end">700</text>
<text transform="translate(413.40 202.15) scale(0.9615 1)" text-anchor="end">800</text>
<text transform="translate(418.40 328.15) scale(0.9615 1)" text-anchor="middle">0</text>
<text transform="translate(436.25 328.15) scale(0.9615 1)" text-anchor="middle">1</text>
<text transform="translate(454.25 328.15) scale(0.9615 1)" text-anchor="middle">2</text>
<text transform="translate(473.00 328.15) scale(0.9615 1)" text-anchor="middle">3</text>
<text transform="translate(491.25 328.15) scale(0.9615 1)" text-anchor="middle">4</text>
<text transform="translate(509.50 328.15) scale(0.9615 1)" text-anchor="middle">6</text>
</g>
<g font-size="6.24" font-weight="bold" fill="#000" text-anchor="middle" stroke="#000" stroke-width="0.3">
<text transform="translate(463.90 337.35) scale(0.9615 1)">weeks after allogeneic (SCID)</text>
<text transform="translate(464.20 344.45) scale(0.9615 1)">reconstitution</text>
</g>
<text transform="translate(398.10 259.00) rotate(-90) scale(0.9615 1)" font-size="6.24" font-weight="bold" text-anchor="middle" stroke="#000" stroke-width="0.3">10<tspan font-size="3.74" dy="-2.9">4</tspan><tspan dy="2.9"> lymph node cells</tspan></text>
<path d="M436.25 317.50 L454.25 317.06 L473.00 314.56 L491.25 306.48 L509.50 263.16" fill="none" stroke="#000" stroke-width="0.95"/>
<path d="M509.50 260.22V266.09M507.80 260.22h3.4M507.80 266.09h3.4" stroke="#000" stroke-width="0.7" fill="none"/>
<path d="M436.25 315.30L438.45 317.50L436.25 319.70L434.05 317.50Z" fill="#000"/>
<path d="M454.25 314.86L456.45 317.06L454.25 319.26L452.05 317.06Z" fill="#000"/>
<path d="M473.00 312.36L475.20 314.56L473.00 316.76L470.80 314.56Z" fill="#000"/>
<path d="M491.25 304.28L493.45 306.48L491.25 308.68L489.05 306.48Z" fill="#000"/>
<path d="M509.50 260.96L511.70 263.16L509.50 265.36L507.30 263.16Z" fill="#000"/>
<path d="M436.25 316.77 L454.25 313.09 L473.00 303.55 L491.25 271.23 L509.50 235.98" fill="none" stroke="#000" stroke-width="0.95" stroke-dasharray="1.4 2.7"/>
<path d="M491.25 269.47V273.00M489.55 269.47h3.4M489.55 273.00h3.4" stroke="#000" stroke-width="0.7" fill="none"/>
<path d="M509.50 233.05V238.92M507.80 233.05h3.4M507.80 238.92h3.4" stroke="#000" stroke-width="0.7" fill="none"/>
<rect x="434.60" y="315.12" width="3.30" height="3.30" fill="#fff" stroke="#000" stroke-width="0.7"/>
<rect x="452.60" y="311.44" width="3.30" height="3.30" fill="#fff" stroke="#000" stroke-width="0.7"/>
<rect x="471.35" y="301.90" width="3.30" height="3.30" fill="#fff" stroke="#000" stroke-width="0.7"/>
<rect x="489.60" y="269.58" width="3.30" height="3.30" fill="#fff" stroke="#000" stroke-width="0.7"/>
<rect x="507.85" y="234.33" width="3.30" height="3.30" fill="#fff" stroke="#000" stroke-width="0.7"/>
<path d="M436.25 316.03 L454.25 309.42 L473.00 282.98 L491.25 235.84 L509.50 210.87" fill="none" stroke="#000" stroke-width="0.95"/>
<path d="M491.25 232.17V239.51M489.55 232.17h3.4M489.55 239.51h3.4" stroke="#000" stroke-width="0.7" fill="none"/>
<path d="M509.50 205.73V216.01M507.80 205.73h3.4M507.80 216.01h3.4" stroke="#000" stroke-width="0.7" fill="none"/>
<rect x="434.60" y="314.38" width="3.30" height="3.30" fill="#fff" stroke="#000" stroke-width="0.7"/>
<rect x="452.60" y="307.77" width="3.30" height="3.30" fill="#fff" stroke="#000" stroke-width="0.7"/>
<rect x="471.35" y="281.33" width="3.30" height="3.30" fill="#fff" stroke="#000" stroke-width="0.7"/>
<rect x="489.60" y="234.19" width="3.30" height="3.30" fill="#fff" stroke="#000" stroke-width="0.7"/>
<rect x="507.85" y="209.22" width="3.30" height="3.30" fill="#fff" stroke="#000" stroke-width="0.7"/>
<g font-size="5" font-weight="bold" text-anchor="middle">
<text x="436.25" y="314.30">*</text>
<text x="454.25" y="306.30">*</text>
<text x="473.00" y="280.30">*</text>
<text x="491.25" y="230.80">*</text>
<text x="509.50" y="204.30">*</text>
</g>
<rect x="160.1" y="2.3" width="79.70000000000002" height="26.7" fill="#fff" stroke="#777" stroke-width="0.55"/>
<path d="M164.5 7.3H181.5" stroke="#000" stroke-width="0.95"/>
<path d="M173.20 5.39L175.11 7.30L173.20 9.21L171.29 7.30Z" fill="#000"/>
<text transform="translate(183.9 9.75) scale(0.9615 1)" font-size="6.29" font-weight="bold" stroke="#000" stroke-width="0.3">NTG+control IgG1</text>
<path d="M164.5 16.0H181.5" stroke="#000" stroke-width="0.95"/>
<rect x="171.76" y="14.56" width="2.87" height="2.87" fill="#fff" stroke="#000" stroke-width="0.7"/>
<text transform="translate(183.9 18.45) scale(0.9615 1)" font-size="6.29" font-weight="bold" stroke="#000" stroke-width="0.3">TG+control IgG1</text>
<path d="M164.5 24.3H181.5" stroke="#000" stroke-width="0.95" stroke-dasharray="1.4 2.7"/>
<rect x="171.76" y="22.86" width="2.87" height="2.87" fill="#fff" stroke="#000" stroke-width="0.7"/>
<text transform="translate(183.9 26.75) scale(0.9615 1)" font-size="6.29" font-weight="bold" stroke="#000" stroke-width="0.3">TG+àCD44v6</text>
<rect x="290.1" y="193.8" width="79.69999999999999" height="26.599999999999994" fill="#fff" stroke="#777" stroke-width="0.55"/>
<path d="M294.1 198.3H311.5" stroke="#000" stroke-width="0.95"/>
<path d="M303.30 196.39L305.21 198.30L303.30 200.21L301.39 198.30Z" fill="#000"/>
<text transform="translate(314.0 200.75) scale(0.9615 1)" font-size="6.29" font-weight="bold" stroke="#000" stroke-width="0.3">NTG+control IgG1</text>
<path d="M294.1 207.7H311.5" stroke="#000" stroke-width="0.95"/>
<rect x="301.86" y="206.26" width="2.87" height="2.87" fill="#fff" stroke="#000" stroke-width="0.7"/>
<text transform="translate(314.0 210.15) scale(0.9615 1)" font-size="6.29" font-weight="bold" stroke="#000" stroke-width="0.3">TG+control IgG1</text>
<path d="M294.1 217.0H311.5" stroke="#000" stroke-width="0.95" stroke-dasharray="1.4 2.7"/>
<rect x="301.86" y="215.56" width="2.87" height="2.87" fill="#fff" stroke="#000" stroke-width="0.7"/>
<text transform="translate(314.0 219.45) scale(0.9615 1)" font-size="6.29" font-weight="bold" stroke="#000" stroke-width="0.3">TG+àCD44v6</text>
</svg>
</body></html>
